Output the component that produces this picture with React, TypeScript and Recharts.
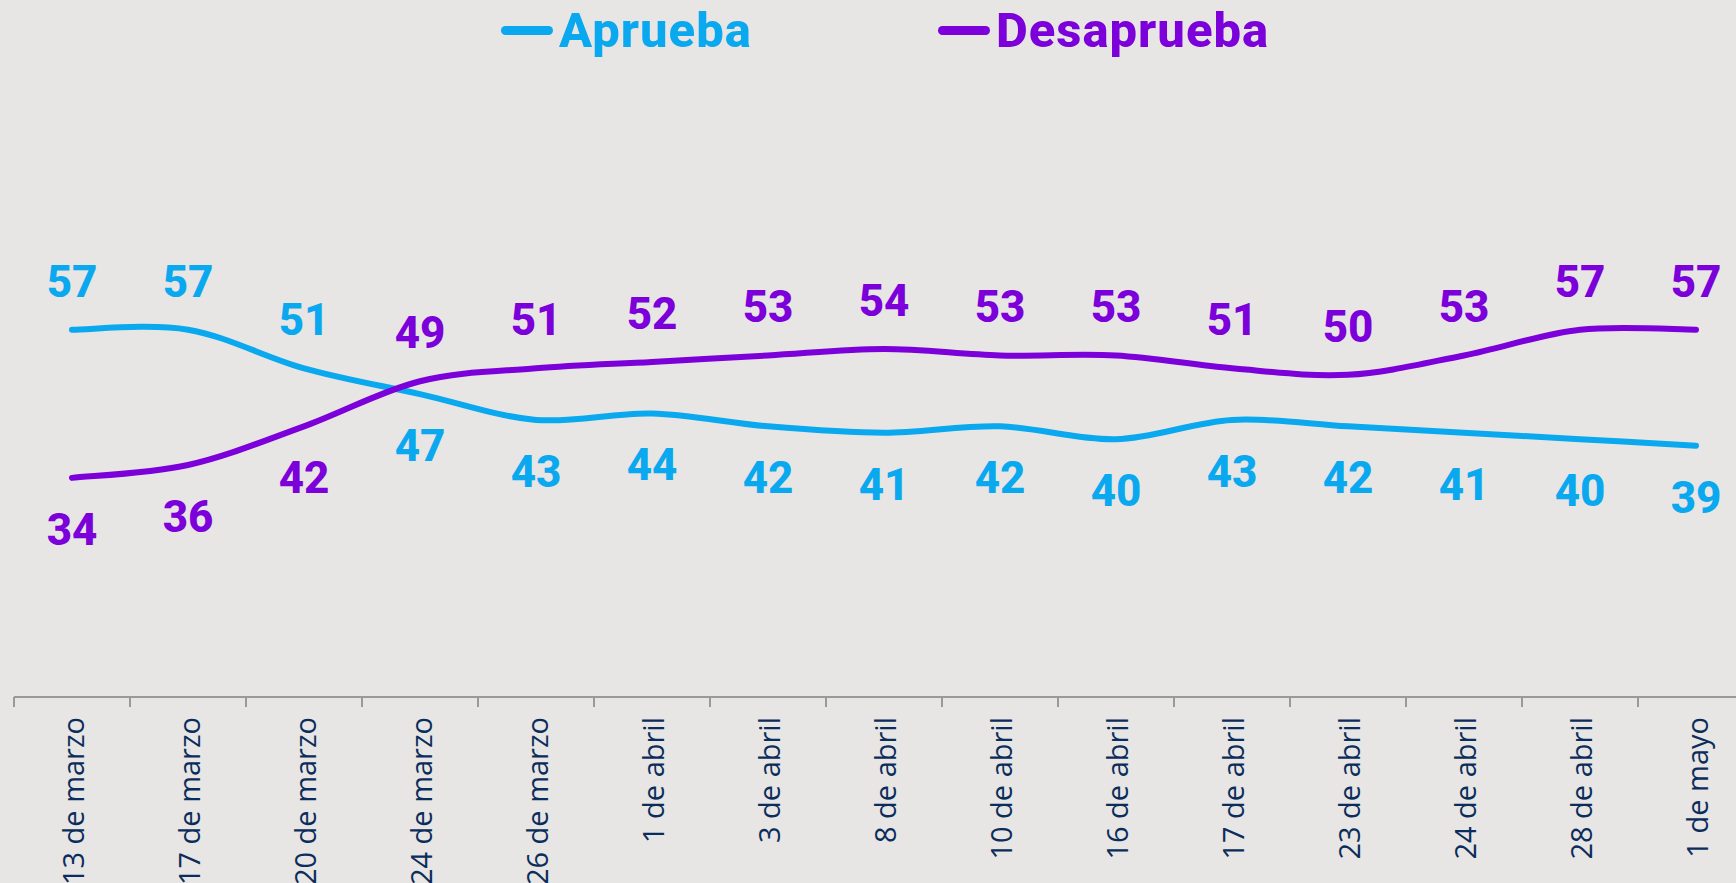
import { LineChart, Line, XAxis, YAxis, Legend, LabelList } from 'recharts';

const fechas = [
    '13 de marzo', '17 de marzo', '20 de marzo', '24 de marzo', '26 de marzo',
    '1 de abril', '3 de abril', '8 de abril', '10 de abril', '16 de abril',
    '17 de abril', '23 de abril', '24 de abril', '28 de abril', '1 de mayo',
];
const aprueba = [57, 57, 51, 47, 43, 44, 42, 41, 42, 40, 43, 42, 41, 40, 39];
const desaprueba = [34, 36, 42, 49, 51, 52, 53, 54, 53, 53, 51, 50, 53, 57, 57];

const AZUL = '#0aa8ef';
const MORADO = '#7c00d9';
const FONDO = '#e8e6e4';
const BAND = 116;

const data = fechas.map((f, i) => ({ fecha: f, aprueba: aprueba[i], desaprueba: desaprueba[i] }));

// suavizado tipo Excel (Catmull-Rom como Bézier)
function curvaSuave(context: any) {
    let pts: number[][] = [];
    return {
        areaStart() {},
        areaEnd() {},
        lineStart() { pts = []; },
        point(x: number, y: number) { pts.push([+x, +y]); },
        lineEnd() {
            if (!pts.length) return;
            context.moveTo(pts[0][0], pts[0][1]);
            for (let i = 0; i < pts.length - 1; i++) {
                const p0 = pts[i - 1] || pts[i];
                const p1 = pts[i];
                const p2 = pts[i + 1];
                const p3 = pts[i + 2] || p2;
                context.bezierCurveTo(
                    p1[0] + (p2[0] - p0[0]) / 6, p1[1] + (p2[1] - p0[1]) / 6,
                    p2[0] - (p3[0] - p1[0]) / 6, p2[1] - (p3[1] - p1[1]) / 6,
                    p2[0], p2[1],
                );
            }
        },
    };
}

function Tick(props: any) {
    const { x, y, payload, index } = props;
    return (
        <g>
            <line x1={x - BAND / 2} y1={y} x2={x - BAND / 2} y2={y + 10} stroke="#999" strokeWidth={2} />
            {index === fechas.length - 1 && (
                <line x1={x + BAND / 2} y1={y} x2={x + BAND / 2} y2={y + 10} stroke="#999" strokeWidth={2} />
            )}
            <text
                x={x}
                y={y + 20}
                transform={`rotate(-90, ${x}, ${y + 20})`}
                textAnchor="end"
                dominantBaseline="central"
                fill="#0b2d5b"
                fontFamily="'Open Sans', sans-serif"
                fontSize={29}
            >
                {payload.value}
            </text>
        </g>
    );
}

function makeLabel(own: number[], other: number[], color: string) {
    return (props: any) => {
        const { x, y, value, index } = props;
        const arriba = own[index] >= other[index];
        return (
            <text
                x={x}
                y={arriba ? y - 48 : y + 52}
                textAnchor="middle"
                dominantBaseline="central"
                fill={color}
                fontFamily="Roboto, sans-serif"
                fontWeight={800}
                fontSize={44}
            >
                {value}
            </text>
        );
    };
}

function Leyenda() {
    const item = (label: string, color: string, ml: number) => (
        <div style={{ display: 'flex', alignItems: 'center', marginLeft: ml }}>
            <div style={{ width: 52, height: 9, borderRadius: 5, background: color, marginRight: 6 }} />
            <span style={{ color, fontFamily: 'Roboto, sans-serif', fontWeight: 800, fontSize: 49, letterSpacing: 1 }}>
                {label}
            </span>
        </div>
    );
    return (
        <div style={{ display: 'flex', alignItems: 'center', height: 60 }}>
            {item('Aprueba', AZUL, 501)}
            {item('Desaprueba', MORADO, 186)}
        </div>
    );
}

export default function App() {
    return (
        <div style={{ position: 'absolute', left: 0, top: 0, width: 1736, height: 883, overflow: 'hidden', background: FONDO }}>
            <LineChart width={14 + BAND * 15} height={883} data={data} margin={{ top: 57, right: 0, bottom: 0, left: 14 }}>
                <Legend
                    verticalAlign="top"
                    content={<Leyenda />}
                    wrapperStyle={{ top: 0, left: 0, width: 1736, height: 60 }}
                />
                <XAxis
                    dataKey="fecha"
                    interval={0}
                    height={186}
                    padding={{ left: BAND / 2, right: BAND / 2 }}
                    tickSize={0}
                    tickMargin={0}
                    tickLine={false}
                    axisLine={{ stroke: '#999', strokeWidth: 2 }}
                    tick={<Tick />}
                />
                <YAxis hide domain={[0, 90]} />
                <Line
                    type={curvaSuave as any}
                    dataKey="aprueba"
                    stroke={AZUL}
                    strokeWidth={6}
                    strokeLinecap="round"
                    dot={false}
                    isAnimationActive={false}
                >
                    <LabelList dataKey="aprueba" content={makeLabel(aprueba, desaprueba, AZUL)} />
                </Line>
                <Line
                    type={curvaSuave as any}
                    dataKey="desaprueba"
                    stroke={MORADO}
                    strokeWidth={6}
                    strokeLinecap="round"
                    dot={false}
                    isAnimationActive={false}
                >
                    <LabelList dataKey="desaprueba" content={makeLabel(desaprueba, aprueba, MORADO)} />
                </Line>
            </LineChart>
        </div>
    );
}
